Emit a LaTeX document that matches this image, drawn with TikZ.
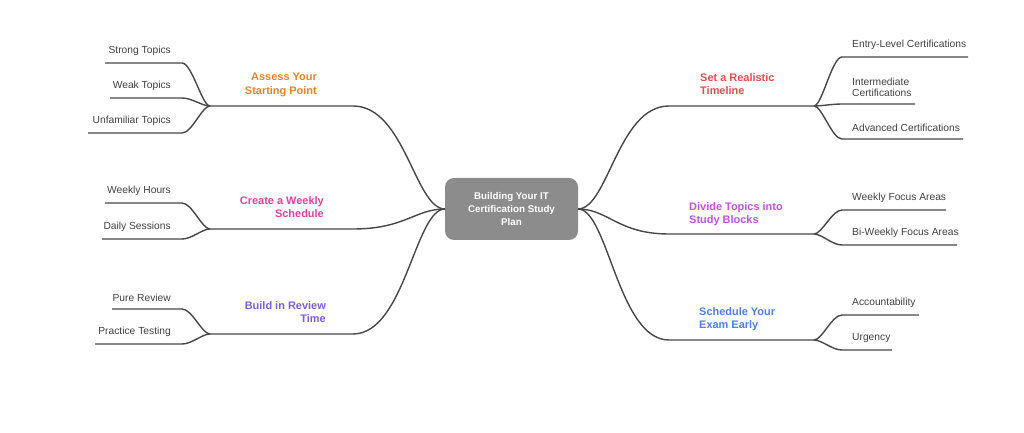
\documentclass[tikz,border=0pt]{standalone}
\usepackage{fontspec}
\setmainfont{Liberation Sans}
\begin{document}
\begin{tikzpicture}[x=1bp,y=-1bp,
  ln/.style={draw=black!72,line width=1.4bp},
  leaf/.style={font=\fontsize{10.3}{11.5}\selectfont,text=black!75,inner sep=0},
  br/.style={font=\bfseries\fontsize{11}{13.5}\selectfont,inner sep=0,align=left},
  brr/.style={font=\bfseries\fontsize{11}{13.5}\selectfont,inner sep=0,align=right}]
\useasboundingbox (0,0) rectangle (1024,433);
\node[fill=black!45,rounded corners=9bp,minimum width=133bp,minimum height=62bp,inner sep=0,text=white,align=center,font=\bfseries\fontsize{9.8}{13.5}\selectfont] (c) at (511.5,209) {Building Your IT\\Certification Study\\Plan};
\coordinate (cl) at (445,209); \coordinate (cr) at (578,209);
\foreach \n/\y in {a/106,b/229,d/334}{
  \coordinate (\n s) at (210,\y);
  \coordinate (\n e) at (353,\y);
}
\draw[ln] (cl) .. controls (415,209) and (405,106) .. (ae) -- (as);
\draw[ln] (cl) .. controls (415,209) and (405,229) .. (be) -- (bs);
\draw[ln] (cl) .. controls (415,209) and (405,334) .. (de) -- (ds);
\foreach \n/\y in {p/106,q/234,r/340}{
  \coordinate (\n s) at (669,\y);
  \coordinate (\n e) at (814,\y);
}
\draw[ln] (cr) .. controls (608,209) and (618,106) .. (ps) -- (pe);
\draw[ln] (cr) .. controls (608,209) and (618,234) .. (qs) -- (qe);
\draw[ln] (cr) .. controls (608,209) and (618,340) .. (rs) -- (re);
\foreach \p/\py/\y/\x/\t in {a/106/63/105/Strong Topics,a/106/98/110/Weak Topics,a/106/133/88/Unfamiliar Topics,b/229/203/105/Weekly Hours,b/229/239/102/Daily Sessions,d/334/309/112/Pure Review,d/334/344/95/Practice Testing}{
  \coordinate (k) at (182,\y);
  \coordinate (kk) at (\x,\y);
  \draw[ln] (\p s) .. controls (202,\py) and (192,\y) .. (k) -- (kk);
  \node[leaf,anchor=south east] (t) at (171,\y-7) {\t};
}
\foreach \p/\py/\y/\x in {p/106/57/968,p/106/104/915,p/106/139/963,q/234/210/946,q/234/245/957,r/340/315/919,r/340/350/892}{
  \coordinate (k) at (842,\y);
  \coordinate (kk) at (\x,\y);
  \draw[ln] (\p e) .. controls (822,\py) and (832,\y) .. (k) -- (kk);
}
\node[leaf,anchor=south west] (e1) at (852,50) {Entry-Level Certifications};
\node[leaf,anchor=south west,align=left] (e2) at (852,97) {Intermediate\\Certifications};
\node[leaf,anchor=south west] (e3) at (852,132) {Advanced Certifications};
\node[leaf,anchor=south west] (e4) at (852,203) {Weekly Focus Areas};
\node[leaf,anchor=south west] (e5) at (852,238) {Bi-Weekly Focus Areas};
\node[leaf,anchor=south west] (e6) at (852,308) {Accountability};
\node[leaf,anchor=south west] (e7) at (852,343) {Urgency};
\node[brr,text={rgb,255:red,232;green,131;blue,42},anchor=north east] (la) at (317,73) {Assess Your\\Starting Point};
\node[brr,text={rgb,255:red,224;green,64;blue,160},anchor=north east] (lb) at (324,196) {Create a Weekly\\Schedule};
\node[brr,text={rgb,255:red,123;green,92;blue,224},anchor=north east] (ld) at (326,301) {Build in Review\\Time};
\node[br,text={rgb,255:red,232;green,76;blue,76},anchor=north west] (lp) at (700,73) {Set a Realistic\\Timeline};
\node[br,text={rgb,255:red,192;green,80;blue,232},anchor=north west] (lq) at (689,202) {Divide Topics into\\Study Blocks};
\node[br,text={rgb,255:red,74;green,128;blue,232},anchor=north west] (lr) at (699,307) {Schedule Your\\Exam Early};
\end{tikzpicture}
\end{document}
